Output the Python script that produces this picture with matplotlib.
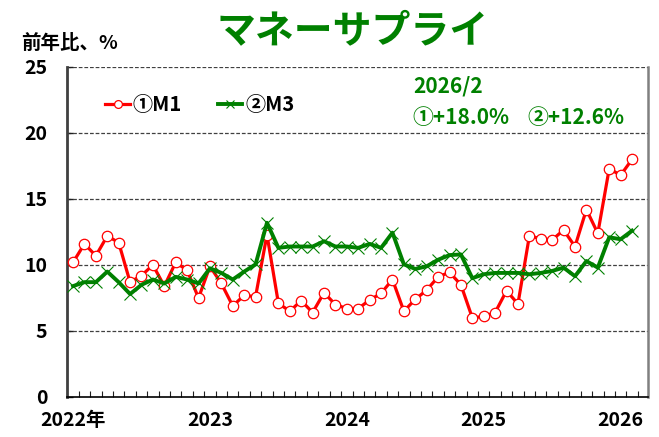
import matplotlib
matplotlib.use("Agg")
import matplotlib.pyplot as plt
import numpy as np
from matplotlib.ticker import FixedLocator

plt.rcParams['font.family'] = ['Noto Sans CJK JP', 'DejaVu Sans']

# Monthly YoY growth, 2022-01 .. 2026-02
m1 = [10.2, 11.6, 10.7, 12.2, 11.7, 8.7, 9.2, 10.0, 8.4, 10.2, 9.6, 7.5,
      9.9, 8.6, 6.9, 7.7, 7.6, 12.3, 7.1, 6.5, 7.3, 6.4, 7.9, 7.0,
      6.7, 6.7, 7.35, 7.85, 8.9, 6.5, 7.4, 8.1, 9.1, 9.45, 8.5, 6.0,
      6.1, 6.4, 8.05, 7.05, 12.2, 12.0, 11.9, 12.65, 11.4, 14.2, 12.4, 17.3,
      16.8, 18.0]
m3 = [8.4, 8.7, 8.7, 9.5, 8.7, 7.8, 8.5, 8.9, 8.6, 9.1, 8.9, 8.6,
      9.75, 9.4, 8.9, 9.5, 10.05, 13.2, 11.3, 11.4, 11.4, 11.4, 11.8, 11.4,
      11.4, 11.3, 11.6, 11.3, 12.45, 10.05, 9.7, 9.9, 10.4, 10.75, 10.8, 9.0,
      9.3, 9.4, 9.4, 9.4, 9.3, 9.4, 9.55, 9.8, 9.15, 10.3, 9.8, 12.1,
      11.95, 12.6]
year_labels = ['2022年', '2023', '2024', '2025', '2026']
year_pos = [0, 12, 24, 36, 48]
y_ticks = [0, 5, 10, 15, 20, 25]

x = np.arange(len(m1))

fig = plt.figure(figsize=(6.59, 4.37), dpi=100)
ax = fig.add_axes([67/659, 40/437, 581/659, 330/437])

ax.plot(x, m1, color='#ff0000', lw=2.3, marker='o', ms=7.5, mfc='white',
        mec='#ff0000', mew=0.9, label='①M1', zorder=3)
ax.plot(x, m3, color='#008000', lw=2.8, marker='x', ms=8, mec='#008000',
        mew=0.8, label='②M3', zorder=4)

ax.set_xlim(-0.53, 50.4)
ax.set_ylim(0, 25)

for v in [5, 10, 15, 20, 25]:
    ax.axhline(v, color='#404040', lw=0.9, ls=(0, (3, 1.5)), zorder=1)

ax.spines['top'].set_visible(False)
ax.spines['left'].set_color('#404040')
ax.spines['left'].set_linewidth(2)
ax.spines['bottom'].set_color('#000000')
ax.spines['bottom'].set_linewidth(1.2)
ax.spines['right'].set_color('#808080')
ax.spines['right'].set_linewidth(1.8)

ax.set_yticks(y_ticks)
ax.set_yticklabels([str(v) for v in y_ticks], fontsize=14, fontweight='bold')
ax.tick_params(axis='y', direction='in', length=4, width=1, pad=14,
               color='#202020')

ax.set_xticks(year_pos)
ax.set_xticklabels(year_labels, fontsize=14, fontweight='bold')
ax.tick_params(axis='x', which='major', length=0, pad=10)
ax.xaxis.set_minor_locator(FixedLocator(np.arange(0.5, 50, 1)))
ax.tick_params(axis='x', which='minor', direction='in', length=4, width=0.8,
               color='#202020')

leg = ax.legend(loc='center left', bbox_to_anchor=(0.035, 0.885), ncol=2,
                frameon=False, handlelength=1.2,
                handletextpad=0.15, columnspacing=1.8, markerscale=0.75,
                prop={'weight': 'bold', 'size': 14.5})

fig.text(413/659, 1 - 86/437, '2026/2', color='#008000', fontsize=15,
         fontweight='bold', ha='left', va='center')
fig.text(412/659, 1 - 117/437, '①+18.0%', color='#008000',
         fontsize=15, fontweight='bold', ha='left', va='center')
fig.text(527/659, 1 - 117/437, '②+12.6%', color='#008000',
         fontsize=15, fontweight='bold', ha='left', va='center')

fig.text(353/659, 1 - 31/437, 'マネーサプライ', color='#008000', fontsize=28,
         fontweight='bold', ha='center', va='center')
fig.text(21/659, 1 - 43/437, '前年比、%', color='black', fontsize=14,
         fontweight='bold', ha='left', va='center')

fig.savefig('out.png', dpi=100)
